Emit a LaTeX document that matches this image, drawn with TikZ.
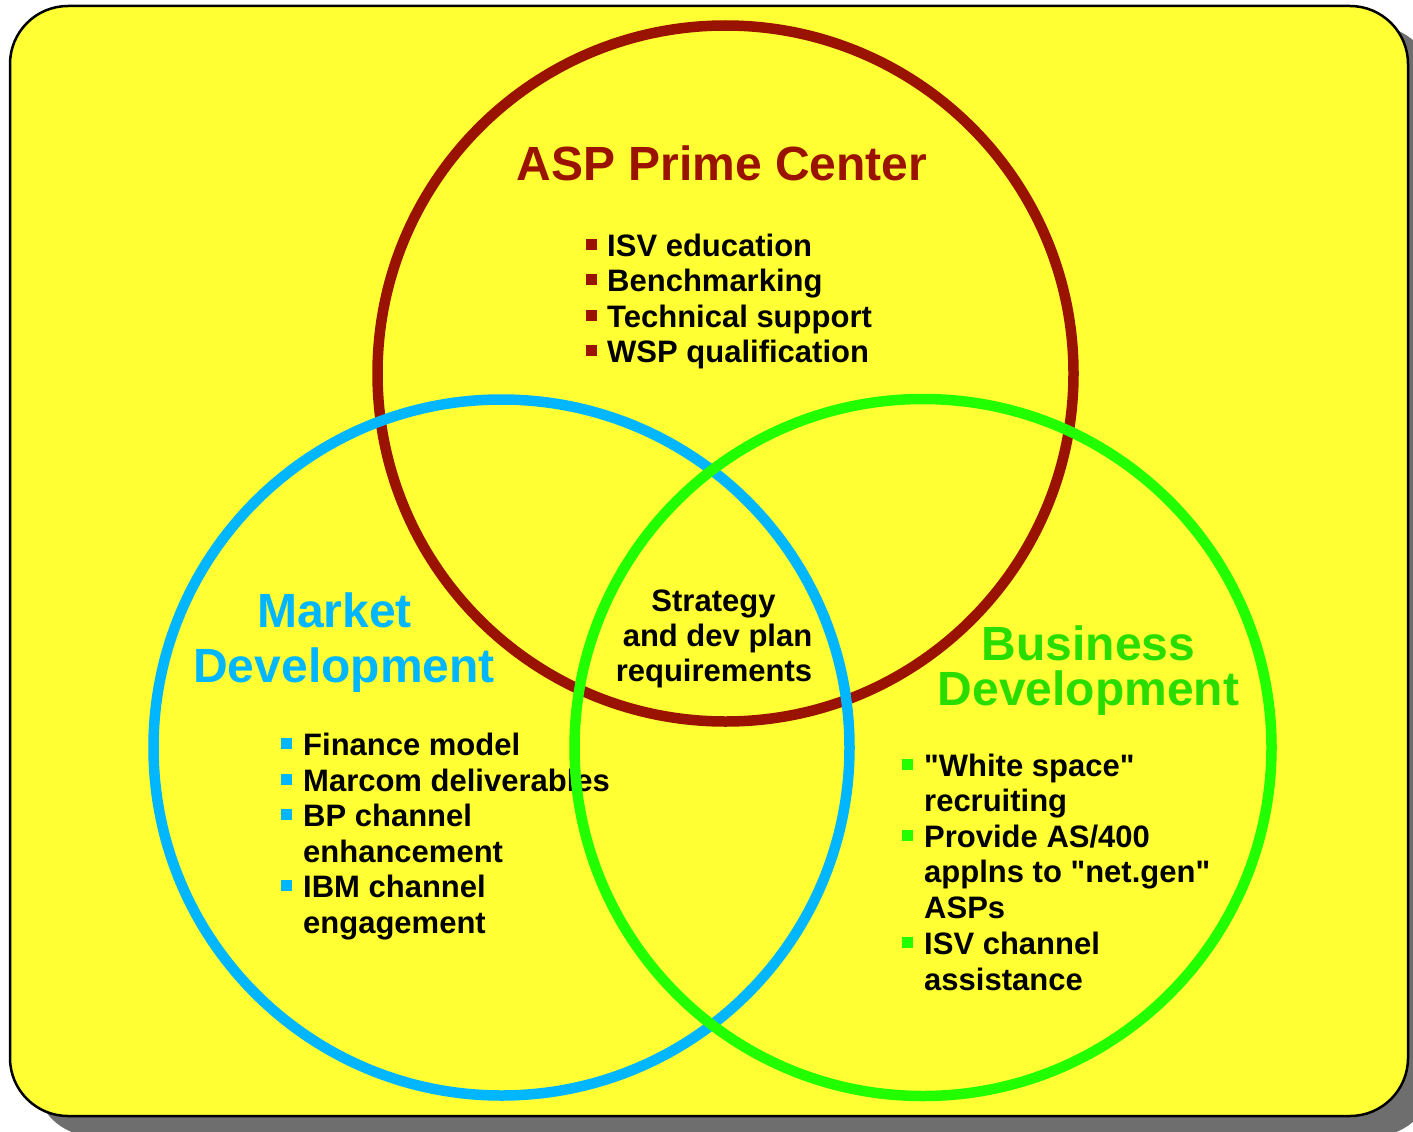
\documentclass[tikz,border=0pt]{standalone}
\usepackage{fontspec}
\setmainfont{Liberation Sans}[Ligatures=TeXOff]
\definecolor{bgyellow}{HTML}{FFFF33}
\definecolor{aspred}{HTML}{9A1200}
\definecolor{mktblue}{HTML}{00B6FF}
\definecolor{busgreen}{HTML}{22FF00}
\definecolor{busgreentext}{HTML}{2ADD00}
\definecolor{shadowgray}{HTML}{6E6E6E}
\tikzset{
  ring/.style={line width=10.5pt},
  title/.style={font=\bfseries\fontsize{48}{55}\selectfont, inner sep=0, anchor=base},
  item/.style={font=\bfseries\fontsize{31}{36}\selectfont, inner sep=0, anchor=base west},
  mid/.style={font=\bfseries\fontsize{31}{36}\selectfont, inner sep=0, anchor=base},
  sq/.style={minimum size=11pt, inner sep=0, draw=none, rectangle}
}
\begin{document}
\begin{tikzpicture}[x=1pt,y=-1pt]
\useasboundingbox (0,0) rectangle (1413,1132);
% shadow and panel
\begin{scope}
\clip (0,0) rectangle (1413,1132);
\fill[shadowgray, rounded corners=58pt] (35,26) rectangle (1433,1136);
\end{scope}
\filldraw[fill=bgyellow, draw=black, line width=2.5pt, rounded corners=58pt] (10,6) rectangle (1408,1116);

% circles (red, blue below text)
\draw[ring, aspred] (725.5,373.5) circle (348);
\draw[ring, mktblue] (501.5,747.5) circle (348);

% ASP Prime Center
\node[title, text=aspred] (asp) at (722,180) {ASP Prime Center};
\node[sq, fill=aspred] (b1) at (591,244) {};
\node[item] (a1) at (607,256) {ISV education};
\node[sq, fill=aspred] (b2) at (591,279.5) {};
\node[item] (a2) at (607,291.5) {Benchmarking};
\node[sq, fill=aspred] (b3) at (591,315) {};
\node[item] (a3) at (607,327) {Technical support};
\node[sq, fill=aspred] (b4) at (591,350.5) {};
\node[item] (a4) at (607,362.5) {WSP qualification};

% Market Development
\node[title, text=mktblue] (mk1) at (334.5,627) {Market};
\node[title, text=mktblue] (mk2) at (344,682) {Development};
\node[sq, fill=mktblue] (m1b) at (286,743.5) {};
\node[item] (m1) at (303,755.5) {Finance model};
\node[sq, fill=mktblue] (m2b) at (286,779) {};
\node[item] (m2) at (303,791) {Marcom deliverables};
\node[sq, fill=mktblue] (m3b) at (286,814.5) {};
\node[item] (m3) at (303,826.5) {BP channel};
\node[item] (m3c) at (303,862) {enhancement};
\node[sq, fill=mktblue] (m4b) at (286,885.5) {};
\node[item] (m4) at (303,897.5) {IBM channel};
\node[item] (m4c) at (303,933) {engagement};

% center
\node[mid] (c1) at (713.5,611) {Strategy};
\node[mid] (c2) at (717.5,646) {and dev plan};
\node[mid] (c3) at (714,681) {requirements};

% Business Development
\node[title, text=busgreentext] (bd1) at (1088.5,660) {Business};
\node[title, text=busgreentext] (bd2) at (1088.5,705) {Development};
\node[sq, fill=busgreen] (g1b) at (907.5,764) {};
\node[item] (g1) at (924,776) {"White space"};
\node[item] (g1c) at (924,811.5) {recruiting};
\node[sq, fill=busgreen] (g2b) at (907.5,835) {};
\node[item] (g2) at (924,847) {Provide AS/400};
\node[item] (g2c) at (924,882.5) {applns to "net.gen"};
\node[item] (g2d) at (924,918) {ASPs};
\node[sq, fill=busgreen] (g3b) at (907.5,942) {};
\node[item] (g3) at (924,954) {ISV channel};
\node[item] (g3c) at (924,990) {assistance};

% green circle on top
\draw[ring, busgreen] (923,747.5) circle (348.5);
\end{tikzpicture}
\end{document}
